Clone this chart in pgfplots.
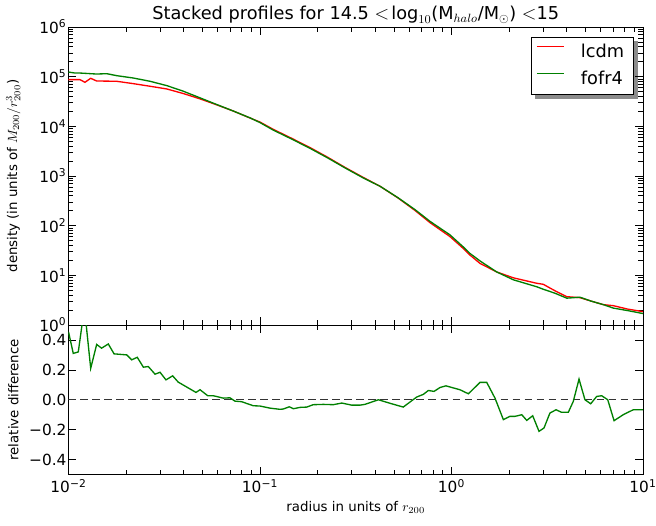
\documentclass[border=0pt]{standalone}
\usepackage{pgfplots}
\pgfplotsset{compat=1.18}
\usepackage{fontspec}
\setmainfont{DejaVu Sans}
\usetikzlibrary{backgrounds}
\definecolor{mplred}{RGB}{255,0,0}
\definecolor{mplgreen}{RGB}{0,128,0}
\begin{document}
\begin{tikzpicture}
\pgfplotsset{
  every axis/.append style={
    scale only axis, width=430.875pt, anchor=south west,
    xmode=log, xmin=0.01, xmax=10,
    xtick={0.01,0.1,1,10},
    minor xtick={0.02,0.03,0.04,0.05,0.06,0.07,0.08,0.09,0.2,0.3,0.4,0.5,0.6,0.7,0.8,0.9,2,3,4,5,6,7,8,9},
    tick align=inside, major tick length=6pt, minor tick length=3.5pt,
    tick style={black, line width=0.5pt},
    axis line style={black, line width=0.7pt},
    ticklabel style={font=\fontsize{11.5}{13}\selectfont},
    yticklabel style={xshift=2pt},
    label style={font=\fontsize{11.3}{13}\selectfont},
    every axis y label/.style={at={(rel axis cs:0,0.5)}, xshift=-41.4pt, rotate=90, anchor=center},
  }
}
% top panel
\begin{axis}[at={(0pt,112.125pt)}, height=223.5pt,
  ymode=log, ymin=1, ymax=1e6,
  xticklabels={},
  ytick={1,10,100,1000,10000,100000,1000000},
  yticklabels={10\textsuperscript{0},10\textsuperscript{1},10\textsuperscript{2},10\textsuperscript{3},10\textsuperscript{4},10\textsuperscript{5},10\textsuperscript{6}},
  minor ytick={2,3,4,5,6,7,8,9,20,30,40,50,60,70,80,90,200,300,400,500,600,700,800,900,2000,3000,4000,5000,6000,7000,8000,9000,20000,30000,40000,50000,60000,70000,80000,90000,200000,300000,400000,500000,600000,700000,800000,900000},
  ylabel={density (in units of $M_{200}/r_{200}^3$)},
  legend style={name=leg, at={(rel axis cs:0.984,0.966)}, anchor=north east,
    font=\fontsize{13.3}{15}\selectfont, draw=black, fill=white, line width=0.5pt,
    inner xsep=4pt, inner ysep=3pt, row sep=3pt,
    nodes={inner ysep=2pt, inner xsep=3pt, text height=10pt, text depth=3pt},
    cells={anchor=west}},
  legend image code/.code={\draw[#1, line width=1pt] (0pt,4.6pt) -- (20pt,4.6pt); \path[draw=none, fill=none] (0pt,4.6pt) rectangle (30pt,4.6pt);},
]
\addplot[mplred, line width=1pt] coordinates {
(0.01,87100) (0.01081,87100) (0.01148,87100) (0.01219,77100) (0.01306,92700) (0.01403,81800)
(0.01585,81300) (0.01786,80700) (0.02178,72400) (0.02667,64100) (0.03258,56600) (0.03981,45700)
(0.04864,35700) (0.05943,27100) (0.07261,20300) (0.08872,14700) (0.1,12200) (0.1172,8710)
(0.1462,5750) (0.1824,3740) (0.2249,2400) (0.2780,1489) (0.3428,955) (0.4236,621)
(0.5248,363) (0.6442,203) (0.7727,115) (0.9817,60.3) (1.153,34.7) (1.250,25.5)
(1.409,17.4) (1.722,11.7) (2.104,8.91) (2.786,6.92) (3.013,6.61) (3.467,4.90)
(4.000,3.72) (4.688,3.55) (5.370,3.02) (6.209,2.57) (6.998,2.45) (8.318,2.09) (10,1.86)
};
\addlegendentry{lcdm}
\addplot[mplgreen, line width=1pt] coordinates {
(0.01,123900) (0.01081,118300) (0.01148,118300) (0.01219,116700) (0.01306,114800) (0.01403,113000)
(0.01585,114800) (0.01786,104700) (0.02178,94000) (0.02667,80700) (0.03258,66100) (0.03981,50900)
(0.04864,37400) (0.05943,27500) (0.07261,20300) (0.08872,14800) (0.1,11900) (0.1172,8410)
(0.1462,5560) (0.1824,3610) (0.2249,2330) (0.2780,1455) (0.3428,933) (0.4236,621)
(0.5248,367) (0.6442,211) (0.7727,122) (0.9817,65.3) (1.153,37.2) (1.250,27.5)
(1.409,19.5) (1.722,11.7) (2.104,8.13) (2.786,5.89) (3.013,5.25) (3.467,4.37)
(4.000,3.47) (4.688,3.63) (5.370,3.02) (6.209,2.57) (6.998,2.19) (8.318,1.95) (10,1.70)
};
\addlegendentry{fofr4}
\end{axis}
\begin{pgfonlayer}{background}
\fill[black!45] ([shift={(3pt,-3pt)}]leg.south west) rectangle ([shift={(3pt,-3pt)}]leg.north east);
\end{pgfonlayer}
% bottom panel
\begin{axis}[at={(0pt,0pt)}, height=112.125pt,
  ymin=-0.5, ymax=0.5,
  xticklabels={10\textsuperscript{−2},10\textsuperscript{−1},10\textsuperscript{0},10\textsuperscript{1}},
  ytick={-0.4,-0.2,0,0.2,0.4},
  yticklabels={−0.4,−0.2,0.0,0.2,0.4},
  ylabel={relative difference},
  xlabel={radius in units of $r_{200}$},
  every axis x label/.style={at={(rel axis cs:0.5,0)}, yshift=-25pt, anchor=center},
]
\addplot[black!80, line width=0.8pt, dash pattern=on 5.5pt off 3.5pt] coordinates {(0.01,0) (10,0)};
\addplot[mplgreen, line width=1pt] coordinates {
(0.01,0.455) (0.01059,0.31) (0.01125,0.32) (0.01194,0.56) (0.01233,0.52) (0.01306,0.21)
(0.01403,0.37) (0.01489,0.345) (0.01614,0.373) (0.01730,0.307) (0.02014,0.30) (0.02138,0.267)
(0.02286,0.284) (0.02460,0.218) (0.02612,0.222) (0.02831,0.171) (0.03006,0.184) (0.03228,0.133)
(0.03499,0.16) (0.03741,0.118) (0.04634,0.049) (0.04864,0.067) (0.05333,0.027) (0.05702,0.027)
(0.06427,0.011) (0.06966,0.013) (0.07396,-0.009) (0.08017,-0.013) (0.09226,-0.04) (0.1,-0.042)
(0.1127,-0.056) (0.1271,-0.064) (0.1324,-0.062) (0.1422,-0.047) (0.1493,-0.06) (0.1618,-0.051)
(0.1754,-0.049) (0.1897,-0.033) (0.2143,-0.031) (0.2415,-0.033) (0.2673,-0.022) (0.3013,-0.036)
(0.3327,-0.036) (0.3532,-0.031) (0.4150,0.0) (0.4875,-0.027) (0.5598,-0.049) (0.6577,0.018)
(0.7129,0.036) (0.7568,0.062) (0.8110,0.056) (0.8710,0.082) (0.9354,0.093) (1.107,0.067)
(1.225,0.04) (1.409,0.116) (1.528,0.116) (1.687,0.011) (1.866,-0.133) (2.018,-0.111)
(2.148,-0.111) (2.328,-0.1) (2.472,-0.138) (2.655,-0.107) (2.864,-0.211) (3.041,-0.189)
(3.266,-0.089) (3.516,-0.067) (3.758,-0.084) (4.074,-0.084) (4.325,-0.011) (4.634,0.138)
(4.977,0.0) (5.333,-0.027) (5.728,0.022) (6.081,0.027) (6.546,0.0) (7.063,-0.14)
(7.889,-0.1) (8.892,-0.067) (10,-0.067)
};
\end{axis}
\node[font=\fontsize{13.3}{15}\selectfont, anchor=base] at (215.4pt,341.5pt)
  {Stacked profiles for 14.5 $<\!\log_{10}$(M$_{halo}$/M$_{\odot}$) $<$15};
\pgfresetboundingbox
\path[use as bounding box] (-51.375pt,-37.875pt) rectangle (440.625pt,355.875pt);
\end{tikzpicture}
\end{document}
